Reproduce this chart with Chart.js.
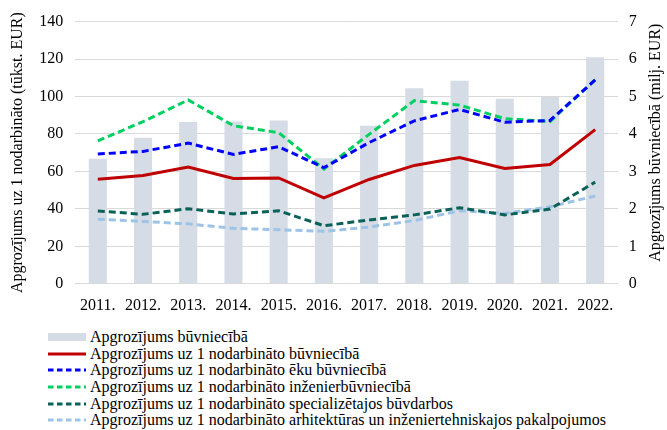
<!DOCTYPE html>
<html>
<head>
<meta charset="utf-8">
<script src="https://cdn.jsdelivr.net/npm/chart.js@4.4.1/dist/chart.umd.min.js"></script>
<style>
  body { margin: 0; background: #fff; }
  #wrap { position: relative; width: 667px; height: 430px; }
  #box { position: absolute; left: 0; top: 0; width: 667px; height: 319px; }
  #legend { position: absolute; left: 48px; top: 329px; font-family: "Liberation Serif", serif; font-size: 16px; color: #000; }
  #legend .row { display: flex; align-items: center; height: 16.6px; white-space: nowrap; }
  #legend svg { margin-right: 4px; }
</style>
</head>
<body>
<div id="wrap">
  <div id="box"><canvas id="chart"></canvas></div>
  <div id="legend"></div>
</div>
<script>
const years = ["2011.", "2012.", "2013.", "2014.", "2015.", "2016.", "2017.", "2018.", "2019.", "2020.", "2021.", "2022."];

// bars, right axis (milj. EUR)
const turnover = [3.34, 3.9, 4.32, 4.33, 4.36, 3.35, 4.22, 5.22, 5.42, 4.94, 4.99, 6.05];

// lines, left axis (tūkst. EUR)
const perEmployee = [55.8, 57.8, 62.3, 56.2, 56.5, 45.9, 55.7, 63.2, 67.4, 61.6, 63.7, 82.3];
const buildings = [69.3, 70.7, 75.1, 69.1, 73.2, 62.0, 75.4, 87.0, 93.1, 86.3, 87.2, 108.9];
const civilEng = [76.3, 86.6, 98.2, 84.4, 80.7, 61.3, 79.8, 97.8, 95.4, 88.2, 86.6, 108.9];
const specialised = [38.9, 37.1, 40.1, 37.3, 39.0, 31.0, 34.1, 36.8, 40.6, 36.8, 39.9, 54.3];
const architecture = [34.5, 33.3, 32.0, 29.6, 28.9, 28.0, 30.3, 33.8, 39.0, 37.6, 41.1, 46.9];

const leftTicks = [0, 140, 20];
const rightTicks = [0, 7, 1];

const serif = "'Liberation Serif', 'Times New Roman', serif";
const dash = [7, 4];

function lineSet(label, data, color, borderDash) {
  return {
    type: 'line',
    label: label,
    data: data,
    borderColor: color,
    backgroundColor: color,
    borderWidth: 3,
    borderDash: borderDash,
    pointRadius: 0,
    tension: 0,
    fill: false,
    yAxisID: 'y',
    order: 0
  };
}

// right axis title reads bottom-to-top, draw it ourselves
const rightTitle = {
  id: 'rightTitle',
  afterDraw(chart) {
    const ctx = chart.ctx;
    const a = chart.chartArea;
    ctx.save();
    ctx.translate(656, (a.top + a.bottom) / 2 - 10);
    ctx.rotate(-Math.PI / 2);
    ctx.font = "16px " + serif;
    ctx.fillStyle = '#000';
    ctx.textAlign = 'center';
    ctx.textBaseline = 'middle';
    ctx.fillText('Apgrozījums būvniecībā (milj. EUR)', 0, 0);
    ctx.restore();
  }
};

const chart = new Chart(document.getElementById('chart'), {
  data: {
    labels: years,
    datasets: [
      {
        type: 'bar',
        label: 'Apgrozījums būvniecībā',
        data: turnover,
        backgroundColor: '#d6dce5',
        barPercentage: 0.4,
        categoryPercentage: 1,
        yAxisID: 'y1',
        order: 1
      },
      lineSet('Apgrozījums uz 1 nodarbināto būvniecībā', perEmployee, '#c00000', []),
      lineSet('Apgrozījums uz 1 nodarbināto ēku būvniecībā', buildings, '#0000ff', dash),
      lineSet('Apgrozījums uz 1 nodarbināto inženierbūvniecībā', civilEng, '#00d060', dash),
      lineSet('Apgrozījums uz 1 nodarbināto specializētajos būvdarbos', specialised, '#0a6158', dash),
      lineSet('Apgrozījums uz 1 nodarbināto arhitektūras un inženiertehniskajos pakalpojumos', architecture, '#9dc3e6', dash)
    ]
  },
  options: {
    responsive: true,
    maintainAspectRatio: false,
    animation: false,
    layout: { padding: { left: 8, right: 0, top: 3, bottom: 0 } },
    plugins: {
      legend: { display: false },
      tooltip: { enabled: false }
    },
    scales: {
      x: {
        grid: { display: false },
        border: { display: false },
        ticks: { color: '#000', font: { family: serif, size: 16 }, maxRotation: 0, autoSkip: false, padding: 4 }
      },
      y: {
        position: 'left',
        min: leftTicks[0],
        max: leftTicks[1],
        grid: { color: '#d9d9d9', drawTicks: false },
        border: { display: false },
        ticks: { stepSize: leftTicks[2], color: '#000', font: { family: serif, size: 16 }, padding: 12 },
        title: { display: true, text: 'Apgrozījums uz 1 nodarbināto (tūkst. EUR)', color: '#000', font: { family: serif, size: 16 }, padding: 0 }
      },
      y1: {
        position: 'right',
        min: rightTicks[0],
        max: rightTicks[1],
        grid: { drawOnChartArea: false, drawTicks: false },
        border: { display: false },
        ticks: { stepSize: rightTicks[2], color: '#000', font: { family: serif, size: 16 }, padding: 11 },
        title: { display: true, text: 'Apgrozījums būvniecībā (milj. EUR)', color: 'rgba(0,0,0,0)', font: { family: serif, size: 16 }, padding: 0 }
      }
    }
  },
  plugins: [rightTitle]
});

// html legend, one item per row
const legend = document.getElementById('legend');
chart.data.datasets.forEach(function (ds) {
  const row = document.createElement('div');
  row.className = 'row';
  let sample;
  if (ds.type === 'bar') {
    sample = '<rect x="0" y="1" width="38" height="8" fill="' + ds.backgroundColor + '"/>';
  } else {
    const d = ds.borderDash.length ? ' stroke-dasharray="5.5,3.5"' : '';
    sample = '<line x1="0" y1="5" x2="38" y2="5" stroke="' + ds.borderColor + '" stroke-width="3"' + d + '/>';
  }
  row.innerHTML = '<svg width="38" height="10">' + sample + '</svg><span>' + ds.label + '</span>';
  legend.appendChild(row);
});
</script>
</body>
</html>
